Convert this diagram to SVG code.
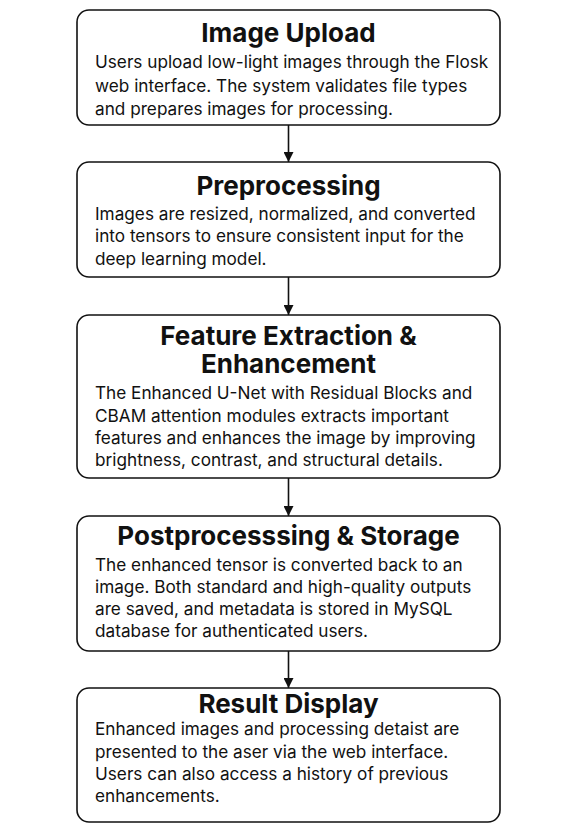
<svg xmlns="http://www.w3.org/2000/svg" width="581" height="829" viewBox="0 0 581 829">
<defs>
<marker id="ah" viewBox="0 0 10 10" refX="10" refY="5" markerWidth="10" markerHeight="10" markerUnits="userSpaceOnUse" orient="auto">
<path d="M0,0 L10,5 L0,10 z" fill="#111"/>
</marker>
<style>
.box{fill:#fff;stroke:#111;stroke-width:1.6}
.t{font-family:Inter,"Liberation Sans",sans-serif;font-weight:700;font-size:26px;fill:#111;text-anchor:middle}
.b{font-family:Inter,"Liberation Sans",sans-serif;font-size:17.2px;fill:#111}
.c{stroke:#111;stroke-width:1.6;fill:none}
</style>
</defs>
<rect width="581" height="829" fill="#fff"/>
<g id="connectors">
<line class="c" x1="288.5" y1="125" x2="288.5" y2="162" marker-end="url(#ah)"/>
<line class="c" x1="288.5" y1="277" x2="288.5" y2="315" marker-end="url(#ah)"/>
<line class="c" x1="288.5" y1="478" x2="288.5" y2="516" marker-end="url(#ah)"/>
<line class="c" x1="288.5" y1="651" x2="288.5" y2="688" marker-end="url(#ah)"/>
</g>
<g id="n1">
<rect class="box" x="77" y="10" width="423" height="115" rx="12"/>
<text class="t" x="288.5" y="42">Image Upload</text>
<text class="b" x="95" y="68">Users upload low-light images through the Flosk</text>
<text class="b" x="95" y="92">web interface. The system validates file types</text>
<text class="b" x="95" y="115">and prepares images for processing.</text>
</g>
<g id="n2">
<rect class="box" x="77" y="162" width="423" height="115" rx="12"/>
<text class="t" x="288.5" y="195">Preprocessing</text>
<text class="b" x="95" y="220">Images are resized, normalized, and converted</text>
<text class="b" x="95" y="242">into tensors to ensure consistent input for the</text>
<text class="b" x="95" y="265">deep learning model.</text>
</g>
<g id="n3">
<rect class="box" x="77" y="315" width="423" height="163" rx="12"/>
<text class="t" x="288.5" y="345">Feature Extraction &amp;</text>
<text class="t" x="288.5" y="373">Enhancement</text>
<text class="b" x="95" y="399">The Enhanced U-Net with Residual Blocks and</text>
<text class="b" x="95" y="422">CBAM attention modules extracts important</text>
<text class="b" x="95" y="444">features and enhances the image by improving</text>
<text class="b" x="95" y="466">brightness, contrast, and structural details.</text>
</g>
<g id="n4">
<rect class="box" x="77" y="516" width="423" height="135" rx="12"/>
<text class="t" x="288.5" y="545">Postprocesssing &amp; Storage</text>
<text class="b" x="95" y="571">The enhanced tensor is converted back to an</text>
<text class="b" x="95" y="593">image. Both standard and high-quality outputs</text>
<text class="b" x="95" y="615">are saved, and metadata is stored in MySQL</text>
<text class="b" x="95" y="637">database for authenticated users.</text>
</g>
<g id="n5">
<rect class="box" x="77" y="688" width="423" height="134" rx="12"/>
<text class="t" x="288.5" y="713">Result Display</text>
<text class="b" x="95" y="735">Enhanced images and processing detaist are</text>
<text class="b" x="95" y="758">presented to the aser via the web interface.</text>
<text class="b" x="95" y="780">Users can also access a history of previous</text>
<text class="b" x="95" y="802">enhancements.</text>
</g>
</svg>
